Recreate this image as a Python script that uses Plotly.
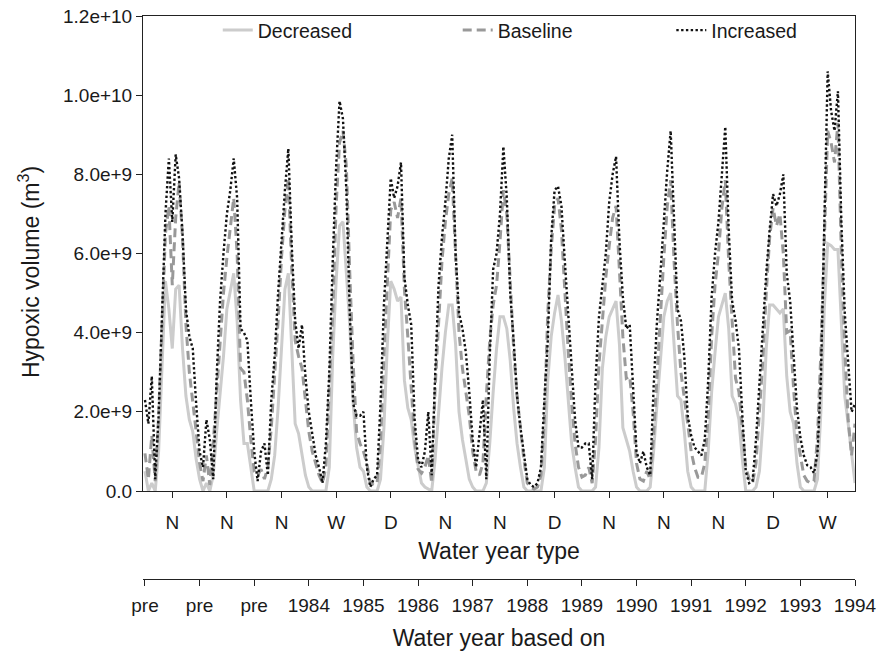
import plotly.graph_objects as go

# Water-year types (one per model year) and water-year labels (year boundaries)
year_types = ["N", "N", "N", "W", "D", "N", "N", "D", "N", "N", "N", "D", "W"]
year_labels = ["pre", "pre", "pre", "1984", "1985", "1986", "1987", "1988",
               "1989", "1990", "1991", "1992", "1993", "1994"]

# Hypoxic volume, in units of 1e9 m^3, 16 samples per water year + final point
decreased = [
    0.5, 0.0, 0.2, 0.0, 1.0, 3.0, 5.3, 4.6, 3.6, 5.1, 5.2, 3.6, 2.4, 1.8, 1.5, 0.8,
    0.3, 0.0, 0.2, 0.0, 0.4, 1.5, 2.4, 3.4, 4.6, 5.1, 5.5, 4.3, 2.3, 1.2, 1.2, 0.6,
    0.0, 0.0, 0.0, 0.0, 0.0, 0.3, 0.9, 2.1, 3.6, 5.1, 5.5, 3.6, 1.7, 1.45, 0.9, 0.4,
    0.1, 0.0, 0.0, 0.0, 0.0, 0.0, 0.6, 3.4, 5.3, 6.7, 6.8, 5.5, 4.2, 2.2, 1.1, 0.6,
    0.5, 0.1, 0.0, 0.0, 0.0, 0.3, 1.6, 3.7, 5.3, 5.1, 4.8, 4.9, 2.8, 2.1, 1.8, 1.1,
    0.6, 0.2, 0.1, 0.05, 0.0, 0.8, 2.0, 3.1, 4.0, 4.7, 4.7, 3.7, 2.0, 1.3, 0.8, 0.3,
    0.1, 0.0, 0.0, 0.0, 0.2, 1.2, 2.5, 3.6, 4.4, 4.4, 4.1, 3.3, 2.1, 1.2, 0.6, 0.1,
    0.0, 0.0, 0.0, 0.0, 0.0, 0.6, 2.8, 3.9, 4.5, 4.95, 4.3, 3.4, 2.2, 1.2, 0.6, 0.1,
    0.0, 0.0, 0.0, 0.0, 0.1, 1.1, 3.1, 3.9, 4.4, 4.6, 4.8, 3.7, 1.6, 1.3, 1.0, 0.5,
    0.1, 0.0, 0.0, 0.0, 0.1, 1.0, 2.2, 3.4, 4.4, 4.8, 5.0, 3.7, 2.4, 2.3, 1.5, 0.5,
    0.1, 0.0, 0.0, 0.0, 0.0, 1.0, 2.5, 3.5, 4.4, 4.7, 5.0, 4.1, 2.4, 2.2, 1.8, 0.8,
    0.0, 0.0, 0.0, 0.1, 0.5, 1.7, 3.6, 4.7, 4.7, 4.6, 4.5, 4.6, 2.9, 2.0, 1.7, 0.7,
    0.1, 0.0, 0.0, 0.0, 0.0, 0.3, 2.0, 4.6, 6.25, 6.2, 6.1, 6.1, 4.2, 2.4, 1.7, 1.0,
    0.2,
]

baseline = [
    0.95, 0.3, 1.4, 0.25, 1.9, 4.3, 6.5, 7.2, 5.2, 6.9, 7.8, 6.4, 4.2, 3.0, 2.3, 1.5,
    0.7, 0.25, 0.9, 0.15, 1.2, 2.5, 3.8, 5.0, 5.9, 6.7, 7.4, 6.0, 3.1, 3.0, 2.3, 1.3,
    0.5, 0.4, 0.55, 0.3, 0.6, 1.6, 2.9, 4.3, 5.9, 7.1, 7.9, 5.6, 3.8, 3.4, 3.1, 2.2,
    1.5, 1.0, 0.7, 0.4, 0.2, 0.6, 2.6, 4.5, 7.2, 8.8, 9.1, 8.2, 5.5, 3.2, 1.5, 1.2,
    1.0, 0.7, 0.2, 0.15, 0.2, 1.2, 3.4, 5.4, 7.1, 7.3, 6.9, 7.4, 5.1, 3.9, 2.6, 1.3,
    0.55, 0.45, 0.6, 0.9, 0.2, 2.6, 4.2, 5.8, 6.8, 7.5, 7.9, 5.8, 4.0, 3.1, 2.5, 1.9,
    1.0, 0.5, 0.4, 0.7, 2.4, 3.8, 4.7, 5.2, 6.3, 7.6, 7.0, 5.2, 3.6, 2.4, 1.6, 0.8,
    0.2, 0.1, 0.05, 0.1, 0.4, 1.8, 4.5, 6.1, 7.2, 7.4, 6.6, 4.9, 3.5, 2.2, 1.2, 0.6,
    0.35, 0.4, 0.6, 0.2, 1.3, 3.2, 4.4, 5.4, 6.2, 6.9, 7.2, 5.7, 3.9, 2.85, 2.9, 2.0,
    0.7, 0.3, 0.25, 0.5, 0.3, 1.4, 3.0, 4.3, 5.9, 7.2, 7.85, 5.8, 4.2, 3.0, 2.4, 1.7,
    1.0, 0.6, 0.35, 0.35, 0.7, 1.9, 3.9, 5.2, 6.0, 7.15, 7.85, 5.8, 4.3, 2.85, 2.5, 1.5,
    0.6, 0.3, 0.2, 0.7, 2.0, 3.3, 5.0, 6.4, 7.15, 6.7, 7.0, 6.0, 4.0, 4.05, 2.6, 1.4,
    0.9, 0.4, 0.25, 0.2, 0.25, 1.35, 3.5, 6.3, 9.1, 8.8, 8.3, 9.3, 6.0, 3.6, 1.8, 0.9,
    1.7,
]

increased = [
    2.3, 1.7, 2.9, 0.3, 1.9, 4.4, 7.0, 8.4, 6.8, 8.5, 7.9, 6.5, 4.6, 3.9, 3.6, 2.2,
    1.0, 0.6, 1.8, 1.3, 0.3, 2.9, 4.8, 6.0, 7.0, 7.6, 8.4, 7.4, 4.1, 4.0, 3.8, 2.3,
    1.0, 0.25, 1.0, 1.2, 0.4, 2.3, 3.4, 5.0, 6.4, 7.6, 8.65, 6.2, 4.3, 3.6, 4.2, 2.9,
    2.0, 1.4, 0.9, 0.6, 0.2, 1.2, 3.0, 5.8, 8.2, 9.85, 9.4, 7.6, 4.5, 2.2, 1.9, 1.9,
    2.0, 0.6, 0.1, 0.3, 0.4, 2.2, 4.7, 6.3, 7.9, 7.4, 7.7, 8.3, 5.4, 4.7, 4.2, 1.8,
    0.8, 0.6, 1.0, 2.0, 0.4, 2.9, 5.2, 6.4, 7.3, 8.4, 9.0, 6.0, 4.5, 4.1, 3.5, 2.5,
    1.3, 0.6, 1.4, 2.3, 0.3, 3.4, 5.6, 6.0, 7.0, 8.7, 7.4, 5.0, 3.8, 2.4, 1.6, 0.9,
    0.3, 0.15, 0.1, 0.2, 0.6, 2.3, 3.8, 6.4, 7.6, 7.7, 7.2, 5.8, 4.4, 2.9, 1.8, 1.1,
    1.1, 1.2, 1.2, 0.3, 2.8, 4.4, 5.2, 6.0, 7.3, 8.0, 8.45, 6.3, 4.9, 4.1, 4.2, 2.6,
    1.0, 0.7, 1.0, 0.6, 0.4, 2.6, 4.3, 5.5, 6.9, 8.1, 9.1, 7.0, 4.6, 4.3, 3.4, 1.9,
    1.4, 1.1, 1.0, 0.9, 1.3, 2.8, 4.9, 6.0, 6.8, 8.1, 9.2, 6.6, 4.8, 4.3, 3.6, 1.9,
    0.5, 0.2, 0.25, 1.3, 2.8, 4.2, 5.5, 6.6, 7.5, 7.2, 7.5, 8.0, 5.5, 4.8, 3.4, 2.1,
    1.35, 0.9, 0.65, 0.6, 0.45, 0.95, 2.8, 6.5, 10.6, 9.6, 9.1, 10.1, 6.8, 4.5, 3.1, 2.0,
    2.2,
]

n_years = len(year_types)
per_year = 16
t = [k + j / per_year for k in range(n_years) for j in range(per_year)] + [float(n_years)]

y_ticks = [0, 2e9, 4e9, 6e9, 8e9, 1e10, 1.2e10]
y_ticktext = ["0.0", "2.0e+9", "4.0e+9", "6.0e+9", "8.0e+9", "1.0e+10", "1.2e+10"]

FONT = "Liberation Sans, Arial, sans-serif"
AX = "#222222"
TXT = "#1a1a1a"

fig = go.Figure()
fig.add_trace(go.Scatter(x=t, y=[v * 1e9 for v in decreased], mode="lines",
                         name="Decreased", legend="legend",
                         line=dict(color="#cccccc", width=3)))
fig.add_trace(go.Scatter(x=t, y=[v * 1e9 for v in baseline], mode="lines",
                         name="Baseline", legend="legend2",
                         line=dict(color="#999999", width=3, dash="9px,5px")))
fig.add_trace(go.Scatter(x=t, y=[v * 1e9 for v in increased], mode="lines",
                         name="Increased", legend="legend3",
                         line=dict(color="#111111", width=2.4, dash="2.4px,2.4px")))
# carrier trace for the secondary (water-year) axis
fig.add_trace(go.Scatter(x=[0, n_years], y=[None, None], xaxis="x2", yaxis="y",
                         mode="lines", showlegend=False, hoverinfo="skip"))

xr = [-0.036, float(n_years)]


def leg(x):
    return dict(orientation="h", x=x, xanchor="left", y=1.009, yanchor="top",
                font=dict(size=19.5, color=TXT), bgcolor="rgba(0,0,0,0)",
                itemclick=False, itemdoubleclick=False)


fig.update_layout(
    width=882, height=651,
    margin=dict(l=143, r=27, t=16, b=72, autoexpand=False),
    paper_bgcolor="white", plot_bgcolor="white",
    font=dict(family=FONT, size=19, color=TXT),
    showlegend=True,
    legend=leg(0.105),
    legend2=leg(0.442),
    legend3=leg(0.742),
    xaxis=dict(
        range=xr, domain=[0, 1], anchor="y", automargin=False,
        tickmode="array", tickvals=[k + 0.5 for k in range(n_years)], ticktext=year_types,
        ticks="outside", ticklen=6, tickcolor=AX, tickwidth=1,
        showline=True, linecolor=AX, linewidth=1, mirror=True,
        showgrid=False, zeroline=False,
        tickfont=dict(size=19, color=TXT), ticklabelstandoff=8,
        title=dict(text="Water year type", font=dict(size=23, color=TXT), standoff=11),
    ),
    xaxis2=dict(
        range=xr, domain=[0, 1], anchor="free", position=0, overlaying="x", side="bottom",
        automargin=False,
        tickmode="array", tickvals=list(range(n_years + 1)), ticktext=year_labels,
        ticks="outside", ticklen=6, tickcolor=AX, tickwidth=1,
        showline=True, linecolor=AX, linewidth=1,
        showgrid=False, zeroline=False,
        tickfont=dict(size=19, color=TXT), ticklabelstandoff=3,
        title=dict(text="Water year based on", font=dict(size=23, color=TXT), standoff=17),
    ),
    yaxis=dict(
        range=[0, 1.2e10], domain=[0.1563, 1], automargin=False,
        tickmode="array", tickvals=y_ticks, ticktext=y_ticktext,
        ticks="outside", ticklen=6, tickcolor=AX, tickwidth=1,
        showline=True, linecolor=AX, linewidth=1, mirror=True,
        showgrid=False, zeroline=False,
        tickfont=dict(size=19, color=TXT), ticklabelstandoff=0,
    ),
    annotations=[dict(
        text="Hypoxic volume (m<sup>3</sup>)", textangle=-90,
        xref="paper", yref="paper", x=-0.1600, y=0.5453,
        xanchor="center", yanchor="middle", showarrow=False,
        font=dict(size=23, color=TXT, family=FONT),
    )],
)

fig.write_html("out.html", config={"displayModeBar": False},
               post_script="document.body.style.margin='0px';")
